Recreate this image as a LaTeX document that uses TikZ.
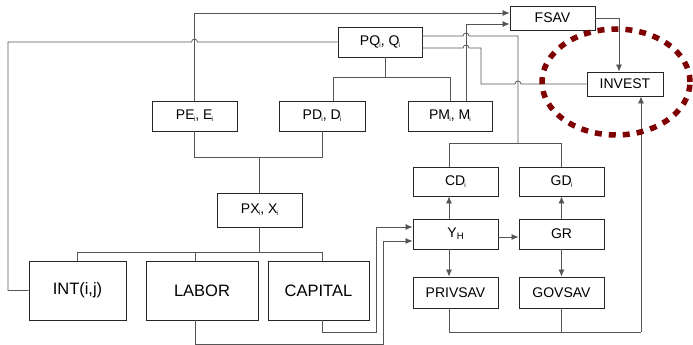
\documentclass[tikz,border=0pt]{standalone}
\usepackage{fontspec}
\setmainfont{Liberation Sans}
\usetikzlibrary{arrows.meta,calc}
\definecolor{dotred}{HTML}{7F0000}
\definecolor{linegray}{HTML}{555555}
\tikzset{
  box/.style={draw=black!85, line width=0.8pt, fill=white, inner sep=0pt,
    minimum width=85pt, minimum height=30pt, font=\fontsize{14}{16}\selectfont},
  bigbox/.style={box, minimum height=59pt, font=\fontsize{16.5}{19}\selectfont},
  conn/.style={draw=linegray, line width=0.75pt},
  arr/.style={conn, -{Latex[length=7pt,width=6pt]}},
}
\newcommand{\sbi}{\kern-0.8pt\raisebox{-1.8pt}{\fontsize{6.5}{7}\selectfont i}}
\newcommand{\sbH}{\kern0.3pt\raisebox{-2.2pt}{\fontsize{9.5}{10}\selectfont H}}
\begin{document}
\begin{tikzpicture}[x=1pt,y=-1pt]
\useasboundingbox (0,0) rectangle (693,345);
% nodes
\node[box, minimum width=85pt, minimum height=24pt] (fsav) at (552.5,18) {FSAV};
\node[box, minimum width=84pt] (pq) at (380,42) {PQ\sbi, Q\sbi};
\node[box, minimum width=76pt, minimum height=24pt] (invest) at (625,84) {INVEST};
\node[box] (pe) at (194.5,116) {PE\sbi, E\sbi};
\node[box, minimum width=86pt] (pd) at (322,116) {PD\sbi, D\sbi};
\node[box, minimum width=84pt] (pm) at (450,116) {PM\sbi, M\sbi};
\node[box, minimum height=34pt] (px) at (259.5,210) {PX\sbi, X\sbi};
\node[bigbox, minimum width=97pt] (int) at (77.5,290.5) {INT(i,j)};
\node[bigbox, minimum width=112pt] (labor) at (202,290.5) {LABOR};
\node[bigbox, minimum width=101pt] (capital) at (318.5,290.5) {CAPITAL};
\node[box, minimum height=29pt] (cd) at (455.5,181.5) {CD\sbi};
\node[box, minimum height=29pt] (gd) at (561.5,181.5) {GD\sbi};
\node[box] (yh) at (455.5,234) {Y\sbH};
\node[box] (gr) at (561.5,234) {GR};
\node[box, minimum height=31pt] (privsav) at (455.5,292.5) {PRIVSAV};
\node[box, minimum height=31pt] (govsav) at (561.5,292.5) {GOVSAV};
% INT -> PQ (with hop over PE line)
\draw[conn] (int.west) -- (8,290.5) -- (8,42) -- (191.5,42)
  arc[start angle=180, end angle=0, radius=3pt] -- (pq.west);
% PE -> FSAV
\draw[arr] (pe.north) -- (194.5,13) -- ($(fsav.west)+(0,-5)$);
% PM -> FSAV
\draw[arr] ($(pm.north)+(16,0)$) -- (466,24) -- ($(fsav.west)+(0,6)$);
% PQ -> PD, PM
\draw[conn] ($(pq.south)+(5,0)$) -- (385,77);
\draw[conn] ($(pd.north)+(11,0)$) -- (333,77) -- (450,77) -- (pm.north);
% PQ -> CD, GD
\draw[conn] ($(pq.east)+(0,-6)$) -- (463,36)
  arc[start angle=180, end angle=0, radius=3pt] -- (518,36) -- (518,143);
\draw[conn] ($(cd.north)+(-6.5,0)$) -- (449,143) -- (561.5,143) -- (gd.north);
% PQ -> INVEST
\draw[conn] ($(pq.east)+(0,6)$) -- (463,48)
  arc[start angle=180, end angle=0, radius=3pt] -- (481,48) -- (481,84) -- (515,84)
  arc[start angle=180, end angle=0, radius=3pt] -- (invest.west);
% FSAV -> INVEST
\draw[arr] (fsav.east) -- (619,18) -- ($(invest.north)+(-6,0)$);
% savings -> INVEST
\draw[conn] ($(privsav.south)+(-6.5,0)$) -- (449,332) -- (641,332);
\draw[conn] (govsav.south) -- (561.5,332);
\draw[arr] (641,332) -- ($(invest.south)+(16,0)$);
% PE, PD -> PX
\draw[conn] (pe.south) -- (194.5,157) -- (322,157) -- (pd.south);
\draw[conn] (259.5,157) -- (px.north);
% PX -> INT, LABOR, CAPITAL
\draw[conn] (px.south) -- (259.5,252);
\draw[conn] (int.north) -- (77.5,252) -- (322,252) -- ($(capital.north)+(3.5,0)$);
\draw[conn] (195,252) -- ($(labor.north)+(-7,0)$);
% LABOR, CAPITAL -> YH
\draw[arr] ($(labor.south)+(-7,0)$) -- (195,344) -- (383,344) -- (383,241) -- ($(yh.west)+(0,7)$);
\draw[arr] ($(capital.south)+(3.5,0)$) -- (322,332) -- (376,332) -- (376,227) -- ($(yh.west)+(0,-7)$);
% YH, GR
\draw[arr] ($(yh.north)+(-6.5,0)$) -- ($(cd.south)+(-6.5,0)$);
\draw[arr] ($(yh.south)+(-6.5,0)$) -- ($(privsav.north)+(-6.5,0)$);
\draw[arr] ($(yh.east)+(0,3)$) -- ($(gr.west)+(0,3)$);
\draw[arr] (gr.north) -- (gd.south);
\draw[arr] (gr.south) -- (govsav.north);
% dotted ellipse
\draw[dotred, line width=5.5pt, dash pattern=on 7pt off 7pt] (616,82) ellipse [x radius=74pt, y radius=53pt];
\end{tikzpicture}
\end{document}
